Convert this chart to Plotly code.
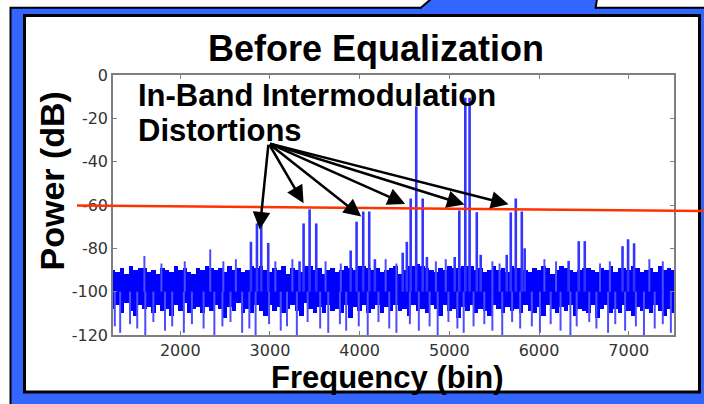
"""Spectrum before equalization: noise floor, intermodulation tones, -60 dB line."""

import plotly.graph_objects as go

# ---- data --------------------------------------------------------------
NOISE_BINS = list(range(1250, 7501, 50))
# solid upper / lower edge of the noise floor (dB)
NOISE_TOP = [
    -90, -91, -89, -92, -88, -90, -89, -89, -91, -90,
    -92, -89, -90, -91, -88, -90, -89, -91, -92, -89,
    -90, -88, -89, -90, -89, -91, -88, -90, -89, -91,
    -90, -88, -89, -88, -90, -91, -89, -90, -88, -92,
    -89, -90, -91, -88, -88, -90, -89, -92, -90, -89,
    -91, -90, -88, -89, -90, -88, -88, -89, -90, -89,
    -91, -90, -89, -88, -92, -90, -88, -88, -87, -88,
    -89, -90, -91, -89, -90, -88, -89, -89, -88, -88,
    -88, -90, -89, -91, -90, -88, -90, -89, -91, -88,
    -89, -89, -90, -91, -89, -90, -88, -89, -92, -90,
    -88, -89, -90, -91, -90, -89, -89, -90, -91, -89,
    -90, -88, -91, -89, -89, -90, -88, -89, -91, -90,
    -89, -91, -88, -90, -89, -90,
]
NOISE_BOTTOM = [
    -108, -106, -110, -105, -109, -111, -106, -108, -107, -110,
    -106, -109, -108, -111, -106, -109, -105, -110, -108, -107,
    -110, -107, -109, -106, -108, -112, -107, -109, -105, -110,
    -108, -110, -106, -109, -111, -106, -109, -107, -110, -108,
    -106, -109, -111, -105, -108, -110, -107, -110, -106, -109,
    -108, -110, -106, -112, -107, -109, -106, -110, -108, -106,
    -110, -107, -109, -106, -109, -108, -111, -106, -109, -108,
    -110, -106, -108, -111, -106, -109, -108, -112, -107, -109,
    -106, -110, -108, -109, -111, -106, -108, -110, -107, -109,
    -108, -110, -106, -109, -110, -107, -111, -106, -108, -110,
    -107, -109, -106, -111, -108, -109, -110, -106, -112, -108,
    -106, -110, -108, -110, -106, -109, -111, -107, -109, -108,
    -110, -106, -109, -111, -108, -110,
]

# thin excursions of the noise below the solid floor
DIP_BINS = [
    1270, 1330, 1440, 1520, 1610, 1700, 1830, 1910, 2040, 2130,
    2260, 2380, 2470, 2560, 2690, 2770, 2840, 2990, 3120, 3190,
    3300, 3420, 3560, 3650, 3780, 3850, 3990, 4090, 4210, 4330,
    4410, 4560, 4660, 4780, 4870, 4990, 5090, 5160, 5270, 5390,
    5480, 5590, 5700, 5790, 5920, 6010, 6130, 6240, 6350, 6420,
    6560, 6640, 6770, 6850, 6960, 7080, 7170, 7290, 7380, 7470,
]
DIP_DB = [
    -116, -119, -115, -117, -120, -114, -118, -116, -119, -115,
    -117, -120, -116, -114, -119, -117, -120, -115, -118, -116,
    -120, -114, -117, -119, -115, -118, -116, -120, -114, -117,
    -119, -115, -118, -116, -120, -114, -117, -119, -116, -115,
    -118, -120, -114, -117, -116, -119, -115, -118, -120, -116,
    -114, -117, -119, -115, -118, -116, -120, -117, -115, -119,
]

# thin excursions above the floor (noise peaks)
PEAK_BINS = [1600, 1790, 2050, 2334, 2480, 2620, 3060, 3250, 3620, 3790,
             4290, 4410, 4850, 4960, 5480, 5560, 6060, 6190, 6680, 6790,
             7230, 7380]
PEAK_DB = [-83.5, -87, -86, -80.5, -86, -85, -86, -85, -86, -87,
           -85, -87, -86, -85, -86, -87, -85, -86, -87, -86,
           -85, -86]

# intermodulation tones and the two carriers
TONE_BINS = [
    2788, 2855, 2903, 2981,
    3330, 3375, 3442, 3516,
    3900, 3966, 4040, 4107, 4170,
    4480, 4526, 4569, 4631, 4703, 4750,
    5060, 5111, 5178, 5226, 5306, 5350,
    5640, 5685, 5741, 5808, 5840,
    6330, 6443, 6510,
    6931, 6993, 7060,
]
TONE_DB = [
    -77, -68.5, -69, -77.5,
    -86, -68.5, -62, -68.5,
    -81, -67.7, -63, -63, -85,
    -82, -77, -57, -14.5, -57, -84,
    -84, -62.5, -10.5, -10.5, -63.3, -83,
    -83, -63.4, -57, -63, -80,
    -85.8, -76.7, -76.7,
    -79, -75.8, -77.7,
]
FLOOR_REF_DB = -100

# arrows: common tail, one tip per distortion product
ARROW_TAIL = (2984, -31.5)
ARROW_TIP_BINS = [2886, 3375, 4018, 4508, 5169, 5660]
ARROW_TIP_DB = [-71.3, -59.2, -65.3, -59.5, -59.8, -59.7]

THRESHOLD_DB = [-60.2, -62.8]  # red reference line, left / right end

X_TICKS = [2000, 3000, 4000, 5000, 6000, 7000]
X_TICK_TEXT = ["2000", "3000", "4000", "5000", "6000", "7000"]
Y_TICKS = [0, -20, -40, -60, -80, -100, -120]
Y_TICK_TEXT = ["0", "-20", "-40", "-60", "-80", "-100", "-120"]

# ---- layout constants ---------------------------------------------------
W, H = 704, 404
ML, MR, MT, MB = 113, 30, 75, 69
PW, PH = W - ML - MR, H - MT - MB
BLUE = "#3366ff"
TRACE_BLUE = "#0000ff"
THIN_BLUE = "#4d4dff"
RED = "#ff3300"
FONT = "Arial, Liberation Sans, sans-serif"


def px_x(p):
    return (p - ML) / PW


def px_y(p):
    return (H - MB - p) / PH


def db_y(db):
    return (db + 120) / 120


def stems(bins, levels, base):
    xs, ys = [], []
    for b, v in zip(bins, levels):
        xs += [b, b, None]
        ys += [base, v, None]
    return xs, ys


fig = go.Figure()

dip_x, dip_y = stems(DIP_BINS, DIP_DB, FLOOR_REF_DB)
fig.add_trace(go.Scatter(x=dip_x, y=dip_y, mode="lines",
                         line=dict(color=THIN_BLUE, width=2), hoverinfo="skip"))
peak_x, peak_y = stems(PEAK_BINS, PEAK_DB, FLOOR_REF_DB)
fig.add_trace(go.Scatter(x=peak_x, y=peak_y, mode="lines",
                         line=dict(color=THIN_BLUE, width=2), hoverinfo="skip"))
tone_x, tone_y = stems(TONE_BINS, TONE_DB, FLOOR_REF_DB)
fig.add_trace(go.Scatter(x=tone_x, y=tone_y, mode="lines",
                         line=dict(color="#3434ff", width=2.6), hoverinfo="skip"))

# solid noise floor
fig.add_trace(go.Bar(
    x=NOISE_BINS,
    y=[t - b for t, b in zip(NOISE_TOP, NOISE_BOTTOM)],
    base=NOISE_BOTTOM,
    width=50,
    marker=dict(color=TRACE_BLUE, line=dict(width=0)),
    hoverinfo="skip",
))

shapes = [
    # blue slide frame
    dict(type="rect", xref="paper", yref="paper", layer="below",
         x0=px_x(10.5), x1=px_x(720), y0=px_y(420), y1=px_y(7.7),
         fillcolor=BLUE, line=dict(color="black", width=2)),
    # tab at the top
    dict(type="path", xref="paper", yref="paper", layer="below",
         path=f"M {px_x(419)},{px_y(10)} L {px_x(431)},{px_y(-2)} "
              f"L {px_x(597)},{px_y(-2)} L {px_x(595)},{px_y(10)} Z",
         fillcolor=BLUE, line=dict(width=0)),
    dict(type="line", xref="paper", yref="paper", layer="below",
         x0=px_x(420), y0=px_y(8.5), x1=px_x(431), y1=px_y(-1),
         line=dict(color="black", width=2)),
    dict(type="line", xref="paper", yref="paper", layer="below",
         x0=px_x(595.5), y0=px_y(8.5), x1=px_x(597), y1=px_y(-1),
         line=dict(color="black", width=2)),
    # white panel
    dict(type="rect", xref="paper", yref="paper", layer="below",
         x0=px_x(24.5), x1=px_x(699.5), y0=px_y(392), y1=px_y(15.5),
         fillcolor="white", line=dict(color="black", width=3)),
    # red -60 dB reference line
    dict(type="line", xref="paper", yref="paper", layer="above",
         x0=px_x(77), x1=px_x(706),
         y0=db_y(THRESHOLD_DB[0]), y1=db_y(THRESHOLD_DB[1]),
         line=dict(color=RED, width=2.5)),
]

bold = dict(family=FONT, color="black", weight="bold")
annotations = [
    dict(text="Before Equalization", xref="paper", yref="paper",
         x=px_x(376), y=px_y(49), xanchor="center", yanchor="middle",
         showarrow=False, font=dict(size=36, **bold)),
    dict(text="Frequency (bin)", xref="paper", yref="paper",
         x=px_x(387), y=px_y(377.5), xanchor="center", yanchor="middle",
         showarrow=False, font=dict(size=31, **bold)),
    dict(text="Power (dB)", xref="paper", yref="paper", textangle=-90,
         x=px_x(51.5), y=px_y(181), xanchor="center", yanchor="middle",
         showarrow=False, font=dict(size=34, **bold)),
    dict(text="In-Band Intermodulation", xref="paper", yref="paper",
         x=px_x(136), y=px_y(95.5), xanchor="left", yanchor="middle",
         showarrow=False, font=dict(size=31, **bold)),
    dict(text="Distortions", xref="paper", yref="paper",
         x=px_x(136), y=px_y(130.5), xanchor="left", yanchor="middle",
         showarrow=False, font=dict(size=31, **bold)),
]
for tx, ty in zip(ARROW_TIP_BINS, ARROW_TIP_DB):
    annotations.append(dict(
        text="", x=tx, y=ty, xref="x", yref="y",
        ax=ARROW_TAIL[0], ay=ARROW_TAIL[1], axref="x", ayref="y",
        showarrow=True, arrowhead=2, arrowsize=1.4, arrowwidth=2.5,
        arrowcolor="black", standoff=0, startstandoff=0,
    ))

axis_common = dict(
    showgrid=False, zeroline=False, showline=True, linecolor="#7f7f7f",
    linewidth=1.5, mirror="ticks", ticks="inside", ticklen=4,
    tickcolor="#7f7f7f", tickwidth=1,
    tickfont=dict(family="DejaVu Sans", size=16, color="#333333"),
)

fig.update_layout(
    width=W, height=H,
    margin=dict(l=ML, r=MR, t=MT, b=MB),
    paper_bgcolor="white", plot_bgcolor="white",
    showlegend=False,
    bargap=0,
    shapes=shapes,
    annotations=annotations,
    xaxis=dict(range=[1250, 7505], tickvals=X_TICKS, ticktext=X_TICK_TEXT,
               **axis_common),
    yaxis=dict(range=[-120, 0], tickvals=Y_TICKS, ticktext=Y_TICK_TEXT,
               **axis_common),
)

fig.write_html(
    "out.html",
    config={"displayModeBar": False},
    post_script="document.body.style.margin = '0';",
)
